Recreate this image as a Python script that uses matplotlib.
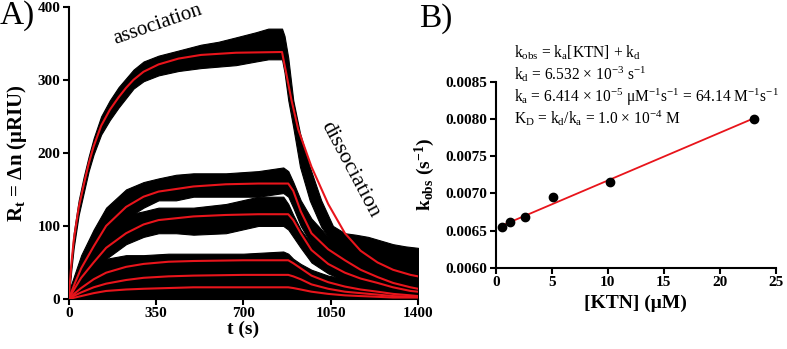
import matplotlib
matplotlib.use("Agg")
import matplotlib.pyplot as plt

plt.rcParams['font.family'] = ['Liberation Serif', 'DejaVu Serif']
plt.rcParams['mathtext.fontset'] = 'custom'
plt.rcParams['mathtext.rm'] = 'Liberation Serif'
plt.rcParams['mathtext.it'] = 'Liberation Serif:italic'
plt.rcParams['mathtext.bf'] = 'Liberation Serif:bold'

# ---------------- Panel A data ----------------
# red fitted curves: association + dissociation
fit1_t = [0, 10, 20, 40, 60, 80, 100, 130, 165, 200, 230, 260, 300, 360, 440, 530, 670, 855,
          870, 893, 920, 973, 1040, 1107, 1170, 1238, 1300, 1370, 1400]
fit1_y = [0, 45, 80, 125, 156, 185, 209, 237, 259, 276, 289, 300, 311, 321, 329, 334, 337, 338,
          312, 272, 232, 181, 130, 90, 66, 50, 40, 33, 31]
fit2_t = [0, 25, 50, 100, 150, 230, 300, 360, 500, 630, 760, 880,
          900, 930, 973, 1040, 1107, 1170, 1238, 1300, 1370, 1400]
fit2_y = [0, 22, 42, 72, 100, 126, 140, 147, 154, 157, 158, 158,
          148, 120, 90, 68, 53, 40, 30, 22, 16, 14]
fit3_t = fit2_t
fit3_y = [0, 15, 29, 50, 70, 90, 102, 108, 113, 115, 116, 116,
          108, 90, 67, 48, 36, 28, 22, 16, 11, 10]
fit4_t = [0, 25, 50, 100, 150, 230, 300, 400, 500, 700, 880,
          900, 930, 973, 1040, 1107, 1170, 1238, 1300, 1370, 1400]
fit4_y = [0, 8, 15, 27, 36, 44, 48, 51, 52, 53, 53,
          49, 42, 32, 23, 17, 13, 10, 7, 5, 4]
fit5_t = fit4_t
fit5_y = [0, 5, 9, 16, 21, 26, 29, 31, 32, 33, 33,
          31, 27, 20, 14, 10, 8, 6, 4, 3, 3]
fit6_t = fit4_t
fit6_y = [0, 2, 4, 8, 11, 13, 14, 15, 16, 16, 16,
          15, 13, 10, 7, 5, 4, 3, 2, 2, 2]

# black measured traces as lower / upper envelopes of the noisy signal
tr1_t = [0, 10, 20, 40, 60, 80, 100, 130, 165, 200, 230, 260, 300, 360, 440, 530, 600, 670, 750,
         800, 855, 865, 880, 900, 927, 966, 1012, 1059, 1107, 1150, 1200, 1250, 1300, 1350, 1400]
tr1_lo = [0, 38, 70, 115, 145, 175, 198, 225, 245, 262, 275, 288, 298, 306, 312, 316, 318, 320,
          325, 328, 328, 310, 272, 235, 181, 135, 99, 75, 60, 52, 45, 40, 38, 35, 32]
tr1_hi = [5, 52, 90, 135, 167, 195, 220, 250, 272, 290, 302, 314, 325, 333, 340, 348, 352, 358,
          365, 370, 370, 360, 330, 272, 227, 181, 135, 100, 90, 88, 85, 80, 75, 72, 70]
tr2_t = [0, 25, 50, 100, 150, 230, 300, 360, 430, 500, 630, 760, 860, 880, 900, 930, 973, 1040,
         1107, 1170, 1238, 1300, 1370, 1400]
tr2_lo = [0, 10, 25, 55, 85, 110, 125, 135, 135, 140, 140, 140, 145, 140, 125, 100, 75, 55, 40,
          30, 22, 18, 12, 10]
tr2_hi = [10, 35, 60, 95, 125, 150, 160, 165, 170, 172, 172, 175, 180, 175, 160, 135, 110, 85,
          70, 60, 55, 50, 45, 45]
tr3_t = tr2_t
tr3_lo = [0, 5, 15, 35, 55, 75, 85, 90, 90, 88, 90, 100, 100, 95, 85, 70, 50, 35, 25, 18, 12,
          8, 5, 5]
tr3_hi = [10, 25, 45, 70, 95, 115, 120, 125, 125, 125, 130, 140, 140, 130, 115, 95, 75, 60, 50,
          45, 40, 35, 30, 30]
tr4_t = [0, 25, 50, 100, 150, 230, 300, 400, 500, 700, 860, 880, 900, 930, 973, 1040, 1107, 1170,
         1238, 1300, 1370, 1400]
tr4_lo = [0, 0, 5, 15, 25, 30, 32, 35, 35, 35, 38, 35, 30, 25, 18, 12, 8, 5, 3, 2, 1, 1]
tr4_hi = [5, 15, 30, 50, 55, 60, 60, 62, 62, 62, 65, 62, 55, 48, 40, 32, 28, 25, 22, 20, 18, 18]
tr5_t = tr4_t
tr5_lo = [0, 0, 0, 5, 10, 12, 15, 15, 15, 15, 15, 15, 12, 10, 6, 4, 2, 1, 0, 0, 0, 0]
tr5_hi = [5, 10, 15, 25, 32, 38, 40, 42, 42, 42, 45, 42, 38, 32, 28, 22, 18, 15, 12, 10, 10, 10]
tr6_t = tr4_t
tr6_lo = [0] * 22
tr6_hi = [3, 6, 10, 15, 18, 20, 22, 24, 24, 24, 25, 24, 22, 20, 17, 14, 12, 10, 8, 7, 6, 6]

a_xticks = [0, 350, 700, 1050, 1400]
a_yticks = [0, 100, 200, 300, 400]

# ---------------- Panel B data ----------------
ktn = [0.6, 1.3, 2.6, 5.1, 10.2, 23.0]
kobs = [0.00655, 0.00661, 0.00668, 0.00695, 0.00715, 0.00800]
fit_x = [0.6, 23.0]
fit_y = [0.00657, 0.00801]
b_xticks = [0, 5, 10, 15, 20, 25]
b_yticks = [0.0060, 0.0065, 0.0070, 0.0075, 0.0080, 0.0085]

W, H = 787, 349
fig = plt.figure(figsize=(W / 100, H / 100), dpi=100)

def style(ax, fs):
    for s in ['top', 'right']:
        ax.spines[s].set_visible(False)
    for s in ['left', 'bottom']:
        ax.spines[s].set_linewidth(1.5)
    ax.tick_params(direction='out', length=4, width=1.5, labelsize=fs, pad=2)
    for lab in ax.get_xticklabels() + ax.get_yticklabels():
        lab.set_fontweight('bold')

# Panel A
ax1 = fig.add_axes([68.7 / W, 50 / H, (418 - 68.7) / W, 292.3 / H])
traces = [(tr1_t, tr1_lo, tr1_hi), (tr2_t, tr2_lo, tr2_hi), (tr3_t, tr3_lo, tr3_hi),
          (tr4_t, tr4_lo, tr4_hi), (tr5_t, tr5_lo, tr5_hi), (tr6_t, tr6_lo, tr6_hi)]
for t, lo, hi in traces:
    ax1.fill_between(t, lo, hi, color='black', lw=0.8, edgecolor='black', zorder=2)
fits = [(fit1_t, fit1_y), (fit2_t, fit2_y), (fit3_t, fit3_y), (fit4_t, fit4_y),
        (fit5_t, fit5_y), (fit6_t, fit6_y)]
for t, y in fits:
    ax1.plot(t, y, color='#e8141b', lw=1.5, zorder=3, solid_joinstyle='round')
ax1.set_xlim(0, 1400)
ax1.set_ylim(0, 400)
ax1.set_xticks(a_xticks)
ax1.set_yticks(a_yticks)
style(ax1, 11)
ax1.set_xlabel('t (s)', fontsize=14, fontweight='bold', labelpad=0)
ax1.set_ylabel(r'R$_{\mathbf{t}}$ = Δn (μRIU)', fontsize=15, fontweight='bold', labelpad=6)
ax1.text(158 / W, 1 - 25 / H, 'association', fontsize=15, rotation=19, ha='center',
         va='center', transform=fig.transFigure)
ax1.text(350 / W, 1 - 170 / H, 'dissociation', fontsize=16, rotation=-62, ha='center',
         va='center', transform=fig.transFigure)

# Panel B
ax2 = fig.add_axes([495.7 / W, 81.3 / H, 280.3 / W, 185.7 / H])
ax2.plot(fit_x, fit_y, color='#e8141b', lw=1.3, zorder=2)
ax2.plot(ktn, kobs, 'o', color='black', ms=6, zorder=3)
ax2.set_xlim(0, 25)
ax2.set_ylim(0.0060, 0.0085)
ax2.set_xticks(b_xticks)
ax2.set_yticks(b_yticks)
ax2.set_yticklabels([f'{v:.4f}' for v in b_yticks])
style(ax2, 11)
ax2.set_xlabel('[KTN] (μM)', fontsize=14, fontweight='bold', labelpad=4)
ax2.set_ylabel(r'k$_{\mathbf{obs}}$ (s$^{\mathbf{-1}}$)', fontsize=14, fontweight='bold', labelpad=6)

lines = [r'k$_{\mathrm{obs}}$ = k$_{\mathrm{a}}$[KTN] + k$_{\mathrm{d}}$',
         r'k$_{\mathrm{d}}$ = 6.532 × 10$^{\mathrm{-3}}$ s$^{\mathrm{-1}}$',
         r'k$_{\mathrm{a}}$ = 6.414 × 10$^{\mathrm{-5}}$ μM$^{\mathrm{-1}}$s$^{\mathrm{-1}}$ = 64.14 M$^{\mathrm{-1}}$s$^{\mathrm{-1}}$',
         r'K$_{\mathrm{D}}$ = k$_{\mathrm{d}}$/k$_{\mathrm{a}}$ = 1.0 × 10$^{\mathrm{-4}}$ M']
baselines = [58, 80, 102, 124]
for s, yb in zip(lines, baselines):
    fig.text(514 / W, 1 - yb / H, s, fontsize=11.2, ha='left', va='baseline')

fig.text(0 / W, 1 - 24 / H, 'A)', fontsize=24, ha='left', va='baseline')
fig.text(419 / W, 1 - 27 / H, 'B)', fontsize=24, ha='left', va='baseline')

fig.savefig('out.png', dpi=100)
